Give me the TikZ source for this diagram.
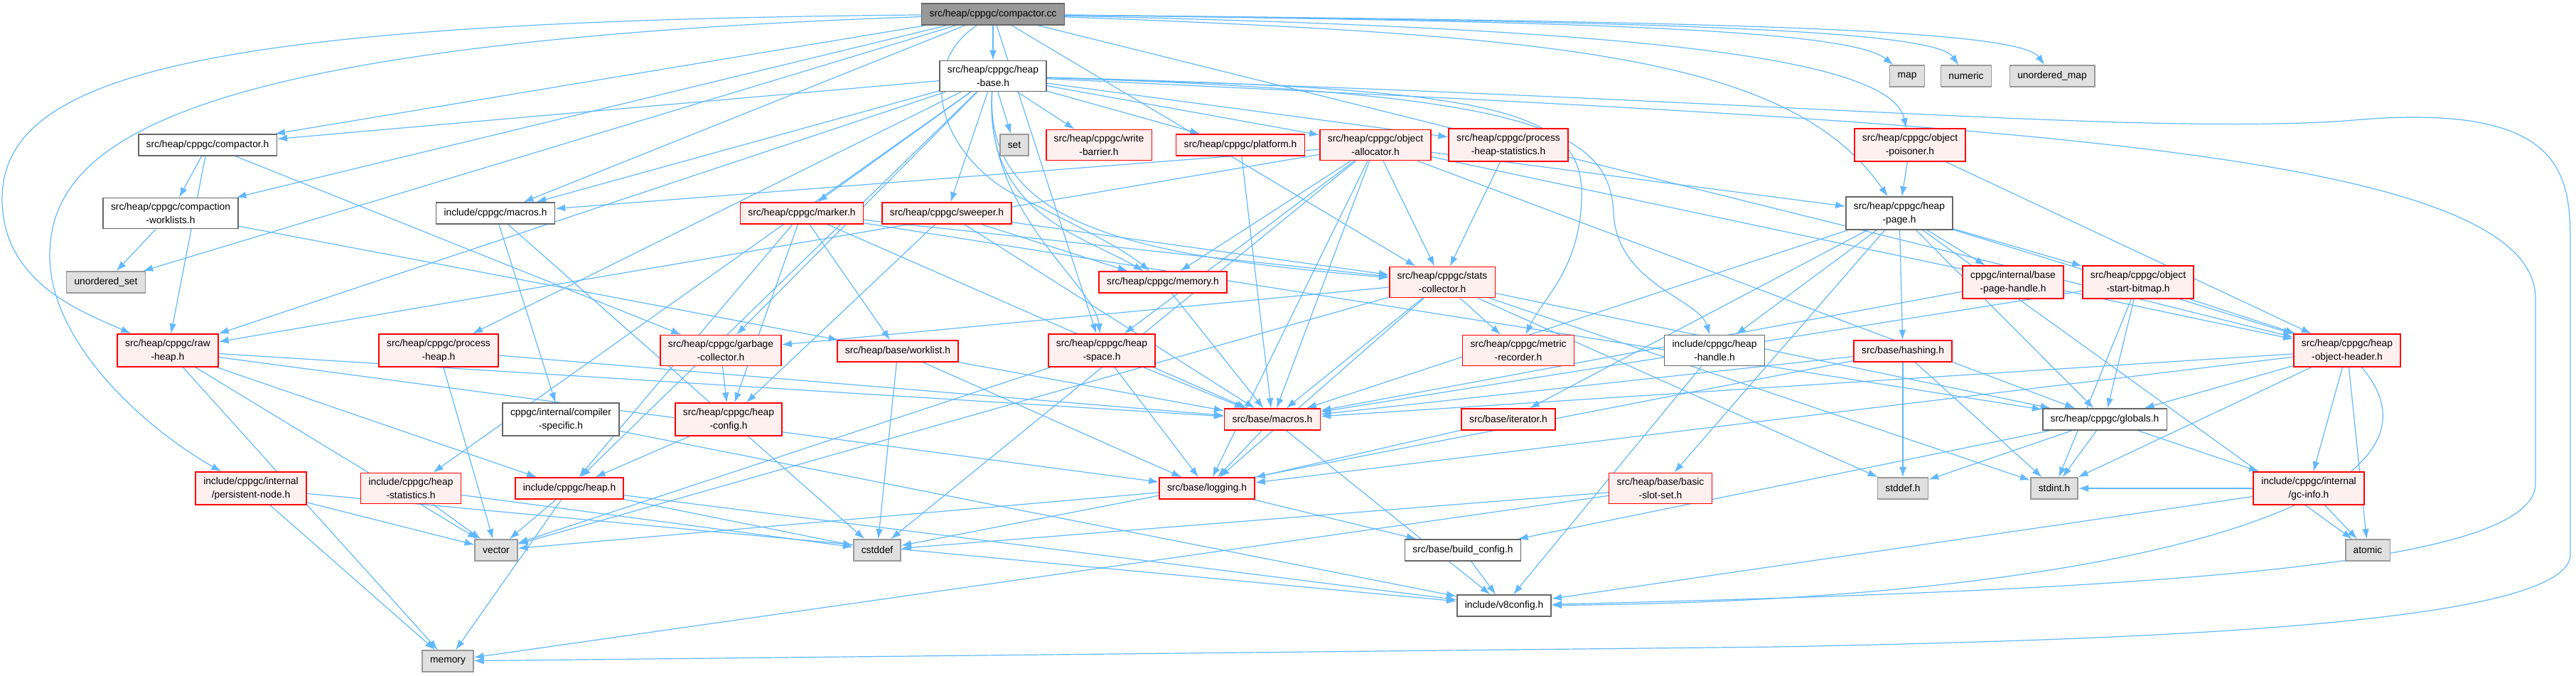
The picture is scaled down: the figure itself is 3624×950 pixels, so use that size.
\documentclass[tikz,border=0pt]{standalone}
\usepackage{fontspec}
\setmainfont{Liberation Sans}
\usepackage{tikz}
\usetikzlibrary{arrows.meta,backgrounds}
\definecolor{depblue}{HTML}{63B8FF}
\definecolor{redfill}{HTML}{FFF0F0}

\begin{document}
\begin{tikzpicture}[
  x=0.5pt,
  y=-0.5pt,
  box/.style={draw=black!60,fill=white,line width=0.8pt,align=center,
    font=\fontsize{6.9}{9.5}\selectfont,inner xsep=5.5pt,inner ysep=3.5pt,minimum height=15pt},
  redbox/.style={box,draw=red,fill=redfill},
  sysbox/.style={box,draw=black!40,fill=black!12},
  srcbox/.style={box,draw=black!60,fill=black!40},
  dep/.style={-{Latex[length=7pt,width=5pt]},draw=depblue,line width=0.6pt}
]
\useasboundingbox (0,0) rectangle (3624,950);

\node[srcbox] (ccfile) at (1397,20) {src/heap/cppgc/compactor.cc};
\node[box] (heapbase) at (1397,107) {src/heap/cppgc/heap\\-base.h};
\node[box] (compactorh) at (292,204) {src/heap/cppgc/compactor.h};
\node[box] (worklists) at (240,300) {src/heap/cppgc/compaction\\-worklists.h};
\node[sysbox] (uset) at (149,397) {unordered\_set};
\node[box] (cmacros) at (697,300) {include/cppgc/macros.h};
\node[redbox] (rawheap) at (236,493) {src/heap/cppgc/raw\\-heap.h};
\node[redbox] (procheap) at (617,493) {src/heap/cppgc/process\\-heap.h};
\node[box] (compiler) at (789,590) {cppgc/internal/compiler\\-specific.h};
\node[redbox] (persist) at (353,687) {include/cppgc/internal\\/persistent-node.h};
\node[redbox] (heapstats) at (578,687) {include/cppgc/heap\\-statistics.h};
\node[redbox] (heaph) at (801,687) {include/cppgc/heap.h};
\node[sysbox] (vector) at (698,774) {vector};
\node[sysbox] (memory) at (630,930) {memory};
\node[sysbox] (setn) at (1427,204) {set};
\node[redbox] (wbarrier) at (1546,204) {src/heap/cppgc/write\\-barrier.h};
\node[redbox] (platform) at (1745,204) {src/heap/cppgc/platform.h};
\node[redbox] (marker) at (1128,300) {src/heap/cppgc/marker.h};
\node[redbox] (sweeper) at (1332,300) {src/heap/cppgc/sweeper.h};
\node[redbox] (memoryh) at (1636,397) {src/heap/cppgc/memory.h};
\node[redbox] (gcoll) at (1014,493) {src/heap/cppgc/garbage\\-collector.h};
\node[redbox] (worklist) at (1263,494) {src/heap/base/worklist.h};
\node[redbox] (heapspace) at (1550,493) {src/heap/cppgc/heap\\-space.h};
\node[redbox] (heapconfig) at (1025,590) {src/heap/cppgc/heap\\-config.h};
\node[redbox] (bmacros) at (1790,590) {src/base/macros.h};
\node[redbox] (logging) at (1698,687) {src/base/logging.h};
\node[sysbox] (cstddef) at (1234,774) {cstddef};
\node[redbox] (objalloc) at (1935,204) {src/heap/cppgc/object\\-allocator.h};
\node[redbox] (phstats) at (2122,204) {src/heap/cppgc/process\\-heap-statistics.h};
\node[redbox] (poisoner) at (2687,204) {src/heap/cppgc/object\\-poisoner.h};
\node[sysbox] (map) at (2683,107) {map};
\node[box] (heappage) at (2672,300) {src/heap/cppgc/heap\\-page.h};
\node[redbox] (stats) at (2029,397) {src/heap/cppgc/stats\\-collector.h};
\node[redbox] (metric) at (2136,493) {src/heap/cppgc/metric\\-recorder.h};
\node[box] (hhandle) at (2412,493) {include/cppgc/heap\\-handle.h};
\node[sysbox] (numeric) at (2766,107) {numeric};
\node[sysbox] (umap) at (2887,107) {unordered\_map};
\node[redbox] (bphandle) at (2832,397) {cppgc/internal/base\\-page-handle.h};
\node[redbox] (bitmap) at (3008,397) {src/heap/cppgc/object\\-start-bitmap.h};
\node[redbox] (hoh) at (3302,493) {src/heap/cppgc/heap\\-object-header.h};
\node[redbox] (iterator) at (2122,590) {src/base/iterator.h};
\node[redbox] (hashing) at (2677,494) {src/base/hashing.h};
\node[redbox] (slotset) at (2336,687) {src/heap/base/basic\\-slot-set.h};
\node[sysbox] (stddef) at (2677,687) {stddef.h};
\node[box] (buildcfg) at (2058,774) {src/base/build\_config.h};
\node[box] (v8config) at (2116,852) {include/v8config.h};
\node[box] (globals) at (2961,590) {src/heap/cppgc/globals.h};
\node[sysbox] (stdint) at (2890,687) {stdint.h};
\node[redbox] (gcinfo) at (3248,687) {include/cppgc/internal\\/gc-info.h};
\node[sysbox] (atomic) at (3331,774) {atomic};

\begin{scope}[on background layer]
\foreach \a/\b in {
  ccfile/heapbase, ccfile/compactorh, ccfile/worklists, ccfile/uset, ccfile/cmacros,
  ccfile/heapspace, ccfile/stats, ccfile/hoh,
  heapbase/compactorh, heapbase/rawheap, heapbase/heapstats, heapbase/heaph, heapbase/cmacros,
  heapbase/procheap, heapbase/marker, heapbase/sweeper, heapbase/setn, heapbase/wbarrier,
  heapbase/platform, heapbase/objalloc, heapbase/phstats, heapbase/gcoll,
  compactorh/worklists, compactorh/rawheap, compactorh/gcoll,
  worklists/uset, worklists/worklist,
  cmacros/cstddef, cmacros/compiler,
  rawheap/memory, rawheap/vector, rawheap/heaph, rawheap/bmacros, rawheap/logging,
  procheap/vector, procheap/bmacros,
  compiler/v8config,
  persist/memory, persist/vector, persist/v8config,
  heapstats/vector, heapstats/cstddef,
  heaph/vector, heaph/memory, heaph/cstddef, heaph/v8config,
  gcoll/heapconfig, heapconfig/heaph,
  worklist/cstddef, worklist/logging, worklist/bmacros,
  heapspace/vector, heapspace/logging, heapspace/bmacros,
  memoryh/bmacros, platform/bmacros,
  bmacros/logging, bmacros/v8config,
  logging/buildcfg, logging/vector,
  buildcfg/v8config, hhandle/v8config,
  marker/worklist, marker/stats, marker/heapconfig, marker/bmacros, marker/globals, marker/heaph,
  sweeper/memoryh, sweeper/stats, sweeper/heapconfig, sweeper/bmacros,
  objalloc/cmacros, objalloc/heappage, objalloc/memoryh, objalloc/stats, objalloc/heapspace,
  objalloc/logging, objalloc/bmacros, objalloc/rawheap, objalloc/globals, objalloc/hoh,
  objalloc/cstddef,
  phstats/stats,
  poisoner/heappage, poisoner/hoh,
  heappage/bphandle, heappage/bitmap, heappage/hoh, heappage/globals, heappage/bmacros,
  heappage/iterator, heappage/hashing, heappage/slotset, heappage/hhandle, heappage/atomic,
  stats/gcoll, stats/metric, stats/bmacros, stats/logging, stats/vector,
  stats/stddef, stats/stdint, stats/globals,
  bphandle/bmacros,
  bitmap/globals, bitmap/hoh, bitmap/stdint, bitmap/bmacros,
  hoh/globals, hoh/gcinfo, hoh/atomic, hoh/stdint, hoh/bmacros, hoh/logging,
  iterator/logging,
  hashing/bmacros, hashing/stddef, hashing/stdint, hashing/cstddef,
  slotset/cstddef, slotset/memory,
  globals/stddef, globals/stdint, globals/gcinfo, globals/buildcfg,
  gcinfo/atomic, gcinfo/stdint, gcinfo/v8config}
  \draw[dep] (\a) -- (\b);

\draw[dep] (ccfile) .. controls (2200,30) and (2600,40) .. (map);
\draw[dep] (ccfile) .. controls (2300,30) and (2720,40) .. (numeric);
\draw[dep] (ccfile) .. controls (2400,30) and (2840,40) .. (umap);
\draw[dep] (ccfile) .. controls (2300,40) and (2660,80) .. (poisoner);
\draw[dep] (ccfile) .. controls (2200,50) and (2520,80) .. (heappage);
\draw[dep] (ccfile) .. controls (300,30) and (3,100) .. (3,280)
  .. controls (3,400) and (120,440) .. (rawheap);
\draw[dep] (ccfile) .. controls (250,60) and (70,200) .. (70,360)
  .. controls (70,480) and (200,600) .. (persist);
\draw[dep] (ccfile) .. controls (1280,100) and (1330,230) .. (1440,280)
  .. controls (1520,320) and (1580,350) .. (memoryh);
\draw[dep] (heapbase) .. controls (1385,320) and (1600,360) .. (stats);
\draw[dep] (heapbase) .. controls (1385,300) and (1520,330) .. (memoryh);
\draw[dep] (heapbase) .. controls (1385,300) and (1540,400) .. (heapspace);
\draw[dep] (heapbase) .. controls (2100,125) and (2230,150) .. (2225,280)
  .. controls (2222,380) and (2170,420) .. (metric);
\draw[dep] (heapbase) .. controls (2150,130) and (2265,180) .. (2270,300)
  .. controls (2275,400) and (2390,420) .. (hhandle);
\draw[dep] (heapbase) .. controls (2500,140) and (3000,190) .. (3300,170)
  .. controls (3616,140) and (3616,250) .. (3616,350) -- (3616,780)
  .. controls (3616,880) and (3000,900) .. (2500,910) -- (memory);
\draw[dep] (heapbase) .. controls (2700,170) and (3567,200) .. (3567,420) -- (3567,680)
  .. controls (3567,800) and (3000,830) .. (v8config);
\draw[dep] (hoh) .. controls (3480,700) and (3000,845) .. (v8config);
\end{scope}
\end{tikzpicture}
\end{document}
